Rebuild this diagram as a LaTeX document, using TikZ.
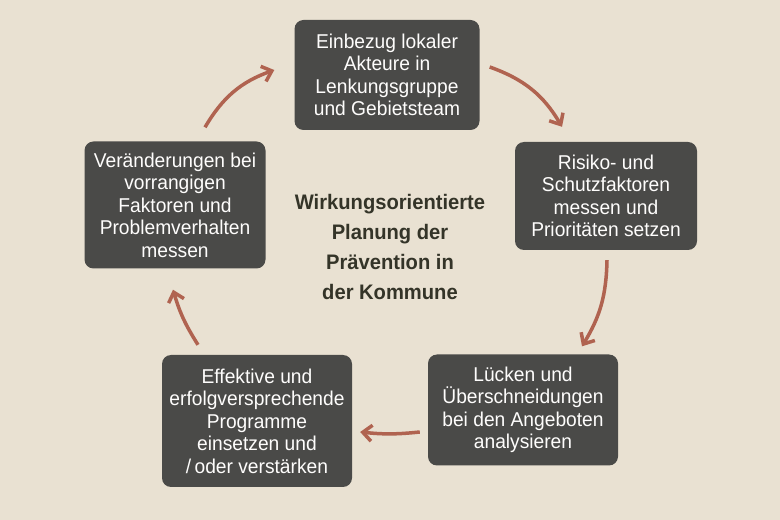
\documentclass[tikz,border=0pt]{standalone}
\usepackage{fontspec}
\setmainfont{Liberation Sans}[FakeStretch=0.96]
\usetikzlibrary{arrows.meta}
\definecolor{paper}{RGB}{233,225,210}
\definecolor{slate}{RGB}{74,74,72}
\definecolor{rust}{RGB}{176,99,80}
\definecolor{olive}{RGB}{52,52,40}
\begin{document}
\begin{tikzpicture}[x=1pt,y=1pt,>={Straight Barb[length=9pt,width=16pt,line width=3.5pt]},
        box/.style={fill=slate,rounded corners=9pt,text=white!94!paper,align=center,
                font=\fontsize{20}{22.5}\selectfont,inner sep=0pt},
        flow/.style={->,draw=rust,line width=3.5pt}]
                \fill[paper] (0,0) rectangle (780,520);
                \useasboundingbox (0,0) rectangle (780,520);
                % Schritte im Kreis
                \node[box,minimum width=185,minimum height=110] (einbezug) at (387,445) {Einbezug lokaler\\Akteure in\\Lenkungsgruppe\\und Gebietsteam};
                \node[box,minimum width=182,minimum height=108] (risiko) at (606,324) {Risiko- und\\Schutzfaktoren\\messen und\\Prioritäten setzen};
                \node[box,minimum width=190,minimum height=111] (luecken) at (523,110) {Lücken und\\Überschneidungen\\bei den Angeboten\\analysieren};
                \node[box,minimum width=190,minimum height=132] (effektiv) at (257,99) {Effektive und\\erfolgversprechende\\Programme\\einsetzen und\\/\,oder verstärken};
                \node[box,minimum width=181,minimum height=127] (veraend) at (175,315) {Veränderungen bei\\vorrangigen\\Faktoren und\\Problemverhalten\\messen};
                % Mitte
                \node[align=center,text=olive,font=\fontsize{21}{30}\selectfont\bfseries] (titel) at (390,273) {Wirkungsorientierte\\Planung der\\Prävention in\\der Kommune};
                % Pfeile
                \draw[flow] ([shift={(30,14)}]veraend.north) to[bend left=20] ([shift={(-20,5)}]einbezug.west);
                \draw[flow] ([shift={(10,8)}]einbezug.east) to[bend left=20] ([shift={(-44,15)}]risiko.north);
                \draw[flow] ([shift={(1,-10)}]risiko.south) to[bend left=15] ([shift={(59,8)}]luecken.north);
                \draw[flow] ([shift={(-8,-22)}]luecken.west) to[bend left=6] ([shift={(8,-11)}]effektiv.east);
                \draw[flow] ([shift={(-59,10)}]effektiv.north) to[bend left=8] ([shift={(-2,-21)}]veraend.south);
\end{tikzpicture}
\end{document}
